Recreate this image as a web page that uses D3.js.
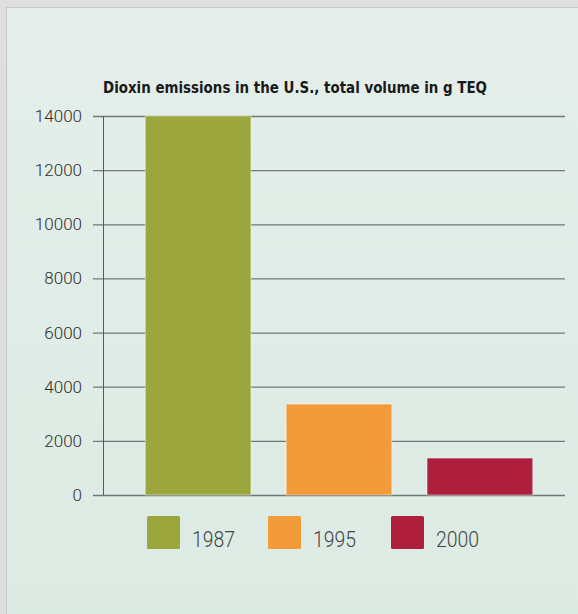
<!DOCTYPE html>
<html>
<head>
<meta charset="utf-8">
<script src="https://cdn.jsdelivr.net/npm/d3@7"></script>
<style>
  html, body { margin: 0; padding: 0; background: #dedede; }
  svg { display: block; }
</style>
</head>
<body>
<div id="chart"></div>
<script>
  var years = ["1987", "1995", "2000"];
  var emissions = [14000, 3360, 1365];
  var colors = ["#9ba73c", "#f29b38", "#ad1f3d"];
  var yTicks = [0, 2000, 4000, 6000, 8000, 10000, 12000, 14000];
  var title = "Dioxin emissions in the U.S., total volume in g TEQ";

  var W = 578, H = 614;

  var svg = d3.select("#chart").append("svg")
    .attr("width", W)
    .attr("height", H);

  var defs = svg.append("defs");
  var grad = defs.append("linearGradient")
    .attr("id", "bg")
    .attr("x1", 0).attr("y1", 0).attr("x2", 0).attr("y2", 1);
  grad.append("stop").attr("offset", "0%").attr("stop-color", "#e5eeea");
  grad.append("stop").attr("offset", "100%").attr("stop-color", "#dcebe4");

  // panel
  svg.append("rect")
    .attr("x", 0).attr("y", 0).attr("width", W).attr("height", H)
    .attr("fill", "#dedede");
  svg.append("rect")
    .attr("x", 6.5).attr("y", 7.5).attr("width", W).attr("height", H)
    .attr("fill", "url(#bg)")
    .attr("stroke", "#c6c9c8");

  var y = d3.scaleLinear().domain([0, 14000]).range([495, 116]);
  var x = d3.scaleBand().domain(years).range([103, 575])
    .paddingInner(0.25).paddingOuter(0.3);

  // grid + ticks
  var axis = svg.append("g")
    .attr("transform", "translate(565,0)")
    .call(d3.axisLeft(y).tickValues(yTicks).tickSize(472).tickPadding(11)
      .tickFormat(d3.format("d")));
  axis.select(".domain").remove();
  axis.selectAll(".tick line")
    .attr("stroke", "#6f7a76")
    .attr("stroke-width", 1.3);
  axis.selectAll(".tick text")
    .attr("fill", "#2e2e2e")
    .style("font-family", "Roboto, 'DejaVu Sans Condensed', sans-serif")
    .style("font-weight", 300)
    .style("font-size", "17px");

  svg.append("line")
    .attr("x1", 103.5).attr("x2", 103.5)
    .attr("y1", y(14000)).attr("y2", y(0))
    .attr("stroke", "#555d5a")
    .attr("stroke-width", 1);

  // bars
  svg.append("g").selectAll("rect")
    .data(emissions)
    .enter().append("rect")
    .attr("x", function (d, i) { return x(years[i]); })
    .attr("y", function (d) { return y(d); })
    .attr("width", x.bandwidth())
    .attr("height", function (d) { return y(0) - y(d); })
    .attr("fill", function (d, i) { return colors[i]; })
    .attr("stroke", "rgba(255,255,255,0.45)")
    .attr("stroke-width", 1);

  // title
  svg.append("text")
    .attr("x", 103)
    .attr("y", 93)
    .attr("textLength", 384)
    .attr("lengthAdjust", "spacingAndGlyphs")
    .attr("fill", "#1a1a1a")
    .style("font-family", "'DejaVu Sans Condensed', 'DejaVu Sans', sans-serif")
    .style("font-weight", "bold")
    .style("font-size", "15px")
    .text(title);

  // legend
  var legX = [147, 268, 391];
  var leg = svg.append("g").selectAll("g")
    .data(years)
    .enter().append("g")
    .attr("transform", function (d, i) { return "translate(" + legX[i] + ",516)"; });
  leg.append("rect")
    .attr("width", 33).attr("height", 33).attr("rx", 1.5)
    .attr("fill", function (d, i) { return colors[i]; });
  leg.append("text")
    .attr("x", 45)
    .attr("y", 31)
    .attr("textLength", 43)
    .attr("lengthAdjust", "spacingAndGlyphs")
    .attr("fill", "#444")
    .style("font-family", "Roboto, 'DejaVu Sans Condensed', sans-serif")
    .style("font-weight", 300)
    .style("font-size", "22px")
    .text(function (d) { return d; });
</script>
</body>
</html>
